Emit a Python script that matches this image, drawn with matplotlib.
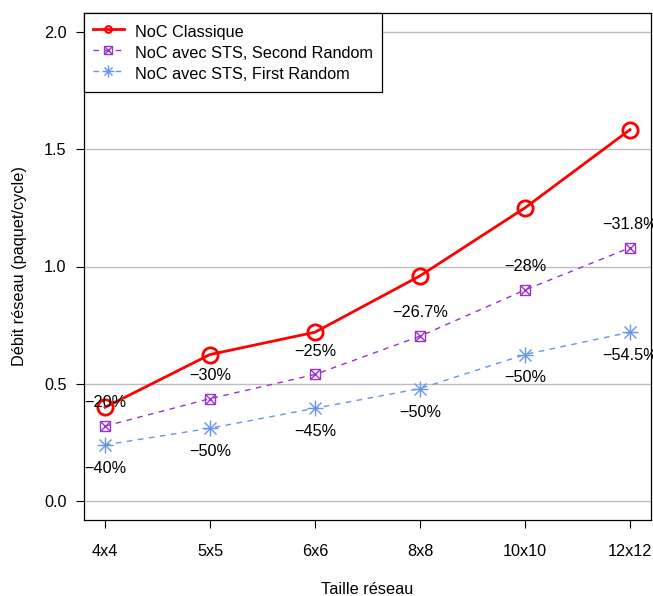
import matplotlib.pyplot as plt
from matplotlib.lines import Line2D
import numpy as np

plt.rcParams['font.family'] = ['Liberation Sans', 'DejaVu Sans']

# data
sizes = ["4x4", "5x5", "6x6", "8x8", "10x10", "12x12"]
classique = [0.40, 0.625, 0.72, 0.96, 1.25, 1.583]
second_random = [0.32, 0.437, 0.54, 0.703, 0.90, 1.08]
first_random = [0.24, 0.311, 0.396, 0.48, 0.625, 0.72]
labels_second = ["\u221220%", "\u221230%", "\u221225%", "\u221226.7%", "\u221228%", "\u221231.8%"]
labels_first = ["\u221240%", "\u221250%", "\u221245%", "\u221250%", "\u221250%", "\u221254.5%"]

RED = "#FF0000"
PURPLE = "#9932CC"
BLUE = "#6495ED"
FS = 11.7

fig = plt.figure(figsize=(6.53, 5.96), dpi=100)
ax = fig.add_axes([84 / 653, 1 - 520 / 596, 567 / 653, 507 / 596])

x = np.arange(1, len(sizes) + 1)

# grid
for yv in [0, 0.5, 1.0, 1.5, 2.0]:
    ax.axhline(yv, color="#BEBEBE", lw=1, zorder=0)

l1, = ax.plot(x, classique, color=RED, lw=2, marker="o", ms=11,
              mfc="none", mec=RED, mew=2, zorder=3)

l2, = ax.plot(x, second_random, color=PURPLE, lw=1, ls=(0, (4, 4)),
              marker="s", ms=7, mfc="none", mec=PURPLE, mew=1, zorder=3)
l2x, = ax.plot(x, second_random, ls="none", marker="x", ms=7,
               mec=PURPLE, mew=1, zorder=3)

l3, = ax.plot(x, first_random, color=BLUE, lw=1, ls=(0, (4, 4)),
              marker="+", ms=11, mec=BLUE, mew=1, zorder=3)
l3x, = ax.plot(x, first_random, ls="none", marker="x", ms=8,
               mec=BLUE, mew=1, zorder=3)

# percentage labels, 0.1 above / below the points
for xi, yi, t in zip(x, second_random, labels_second):
    ax.text(xi, yi + 0.1, t, ha="center", va="center", fontsize=FS, zorder=4)
for xi, yi, t in zip(x, first_random, labels_first):
    ax.text(xi, yi - 0.1, t, ha="center", va="center", fontsize=FS, zorder=4)

ax.set_xlim(0.8, 6.2)
ax.set_ylim(-0.08, 2.08)
ax.set_xticks(x)
ax.set_xticklabels(sizes)
ax.set_yticks([0, 0.5, 1.0, 1.5, 2.0])
ax.set_yticklabels(["0.0", "0.5", "1.0", "1.5", "2.0"])
ax.tick_params(direction="out", length=5.5, width=0.8, labelsize=FS)
ax.tick_params(axis="x", pad=12)
ax.tick_params(axis="y", pad=7)
for s in ax.spines.values():
    s.set_linewidth(0.9)

ax.set_xlabel("Taille r\u00e9seau", fontsize=FS, labelpad=16.5)
ax.set_ylabel("D\u00e9bit r\u00e9seau (paquet/cycle)", fontsize=FS, labelpad=12)

h1 = Line2D([], [], color=RED, lw=2, marker="o", ms=6, mfc="none", mec=RED, mew=1.5)
leg = ax.legend([h1, (l2, l2x), (l3, l3x)],
                ["NoC Classique", "NoC avec STS, Second Random", "NoC avec STS, First Random"],
                loc="upper left", bbox_to_anchor=(0, 1), borderaxespad=0,
                fontsize=FS, fancybox=False, framealpha=1, edgecolor="black",
                handlelength=1.9, handleheight=1.45, labelspacing=0.1,
                borderpad=0.55, handletextpad=0.7, markerscale=0.8)
leg.get_frame().set_linewidth(0.9)
leg.set_zorder(5)

fig.savefig("out.png", dpi=100)
